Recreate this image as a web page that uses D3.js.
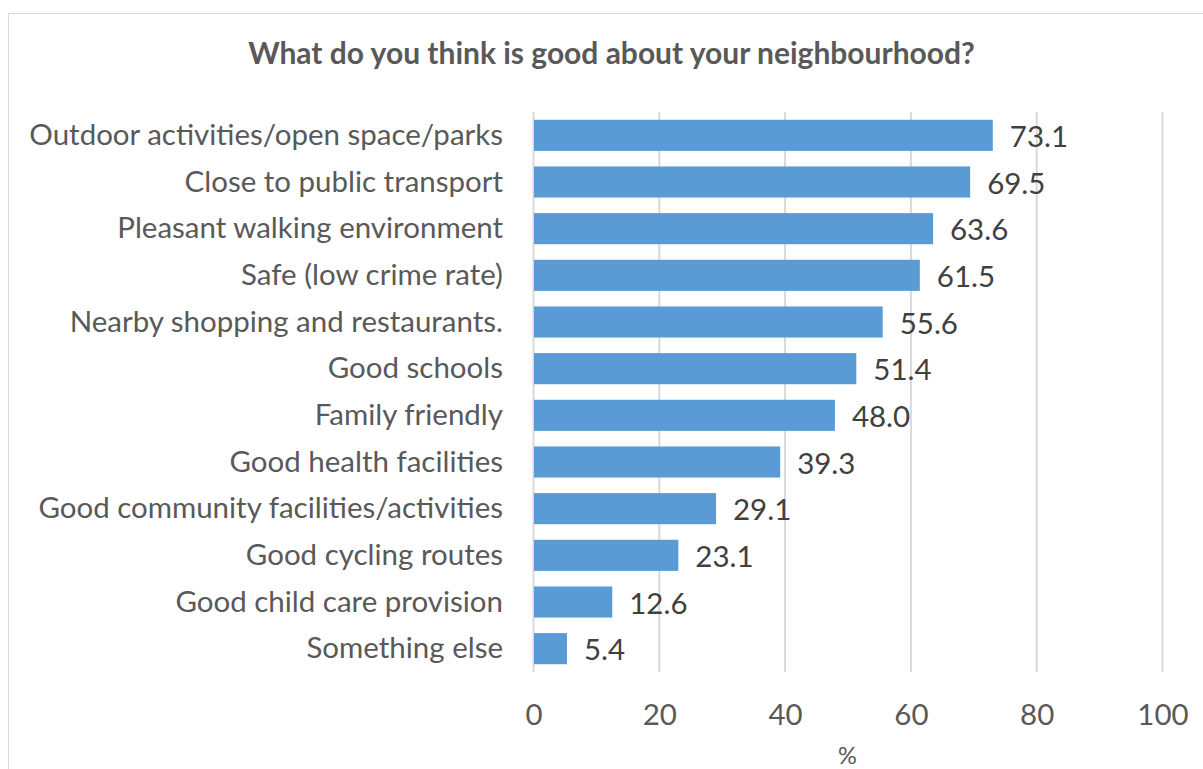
<!DOCTYPE html>
<html><head><meta charset="utf-8">
<script src="https://cdn.jsdelivr.net/npm/d3@7/dist/d3.min.js"></script>
<style>
html,body{margin:0;padding:0;background:#fff;overflow:hidden;}
svg{display:block;font-family:Lato,"Open Sans",sans-serif;}
</style></head>
<body>
<svg id="chart" width="1203" height="769"></svg>
<script>
const categories = [
  "Outdoor activities/open space/parks",
  "Close to public transport",
  "Pleasant walking environment",
  "Safe (low crime rate)",
  "Nearby shopping and restaurants.",
  "Good schools",
  "Family friendly",
  "Good health facilities",
  "Good community facilities/activities",
  "Good cycling routes",
  "Good child care provision",
  "Something else"
];
const values = [73.1, 69.5, 63.6, 61.5, 55.6, 51.4, 48.0, 39.3, 29.1, 23.1, 12.6, 5.4];
const xTicks = [0, 20, 40, 60, 80, 100];
const title = "What do you think is good about your neighbourhood?";
const xTitle = "%";

const svg = d3.select("#chart");
const m = {left: 533, right: 1162, top: 112, bottom: 672};

// chart border
svg.append("rect").attr("x", 8.5).attr("y", 13.5).attr("width", 1205).attr("height", 780)
  .attr("fill", "none").attr("stroke", "#d9d9d9").attr("stroke-width", 1);

const x = d3.scaleLinear().domain([0, 100]).range([m.left, m.right]);
const y = d3.scaleBand().domain(categories).range([m.top, m.bottom]).paddingInner(1/3).paddingOuter(1/6);

// gridlines
svg.append("g").selectAll("line").data(xTicks).join("line")
  .attr("x1", d => x(d) + 0.5).attr("x2", d => x(d) + 0.5)
  .attr("y1", m.top).attr("y2", m.bottom)
  .attr("stroke", "#d9d9d9").attr("stroke-width", 2);

// bars
svg.append("g").selectAll("rect").data(values).join("rect")
  .attr("x", x(0) + 1)
  .attr("y", (d, i) => y(categories[i]))
  .attr("width", d => x(d) - x(0) - 1)
  .attr("height", y.bandwidth())
  .attr("fill", "#5b9bd5");

function fit(sel, target) {
  const w = sel.node().getComputedTextLength();
  const fs = parseFloat(sel.attr("font-size"));
  sel.attr("font-size", fs * target / w);
  return fs * target / w;
}

// category labels
const catG = svg.append("g");
const probe = catG.append("text").attr("font-size", 26).text(categories[0]);
const catFs = fit(probe, 474);
probe.remove();
catG.selectAll("text").data(categories).join("text")
  .attr("x", 503).attr("y", d => y(d) + y.bandwidth() / 2 - 2)
  .attr("text-anchor", "end").attr("dominant-baseline", "central")
  .attr("font-size", catFs).attr("fill", "#595959").text(d => d);

// value labels
svg.append("g").selectAll("text").data(values).join("text")
  .attr("x", d => x(d) + 17).attr("y", (d, i) => y(categories[i]) + y.bandwidth() / 2)
  .attr("dominant-baseline", "central")
  .attr("font-size", catFs).attr("fill", "#404040").text(d => d.toFixed(1));

// x axis tick labels
const xAxis = d3.axisBottom(x).tickValues(xTicks).tickSize(0).tickPadding(0).tickFormat(d3.format("d"));
const ax = svg.append("g").attr("transform", `translate(0.5,${m.bottom})`).call(xAxis);
ax.select(".domain").remove();
ax.selectAll("text").attr("y", 41).attr("dy", null).attr("dominant-baseline", "central")
  .attr("font-size", catFs).attr("font-family", "Lato,'Open Sans',sans-serif").attr("fill", "#595959");

// x title
svg.append("text").attr("x", (m.left + m.right) / 2).attr("y", 755)
  .attr("text-anchor", "middle").attr("dominant-baseline", "central")
  .attr("font-size", catFs * 0.8).attr("fill", "#595959").text(xTitle);

// title
const t = svg.append("text").attr("x", 611.5).attr("y", 52)
  .attr("text-anchor", "middle").attr("dominant-baseline", "central")
  .attr("font-size", 24).attr("font-weight", "bold").attr("fill", "#595959").text(title);
fit(t, 727);
</script>
</body></html>
